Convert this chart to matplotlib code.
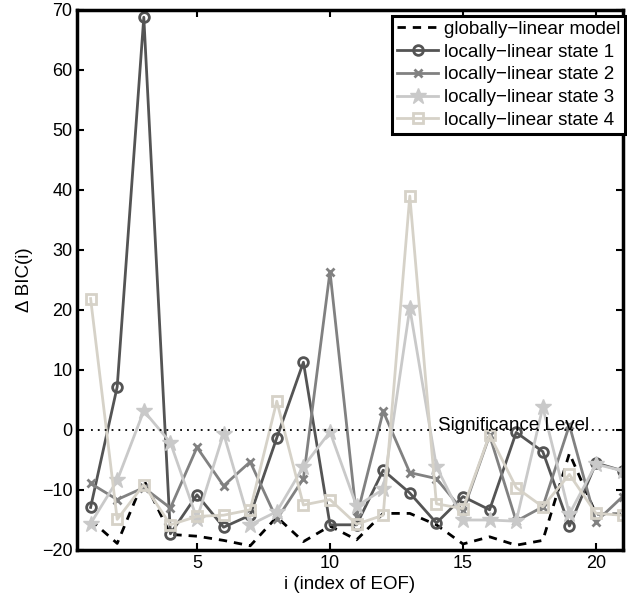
import matplotlib
matplotlib.use("Agg")
import matplotlib.pyplot as plt
import numpy as np

plt.rcParams['font.family'] = ['Liberation Sans', 'DejaVu Sans']

eof_index = list(range(1, 22))
global_model = [-15.0, -18.9, -8.3, -17.4, -17.7, -18.4, -19.3, -14.5, -18.6, -16.0, -18.3,
                -13.9, -13.9, -15.8, -19.0, -17.8, -19.2, -18.4, -3.9, -14.0, -14.0]
state1 = [-12.9, 7.2, 68.8, -17.3, -10.8, -16.2, -14.2, -1.3, 11.3, -15.8, -15.8,
          -6.7, -10.5, -15.5, -11.1, -13.3, -0.4, -3.6, -16.0, -5.5, -6.8]
state2 = [-8.9, -11.6, -9.6, -13.0, -2.9, -9.3, -5.3, -14.9, -8.1, 26.4, -14.5,
          3.1, -7.1, -8.1, -13.5, -0.9, -15.2, -12.8, 0.8, -15.3, -11.1]
state3 = [-15.6, -8.4, 3.2, -2.1, -14.8, -0.6, -15.8, -13.6, -6.1, -0.3, -12.7,
          -9.9, 20.3, -6.1, -15.0, -15.0, -15.2, 3.8, -14.0, -5.7, -6.8]
state4 = [21.9, -14.9, -9.1, -15.8, -14.4, -14.2, -13.3, 4.8, -12.5, -11.6, -15.7,
          -14.2, 39.0, -12.3, -13.1, -0.8, -9.6, -12.8, -7.4, -13.9, -14.2]
labels = ['globally\u2212linear model', 'locally\u2212linear state 1', 'locally\u2212linear state 2',
          'locally\u2212linear state 3', 'locally\u2212linear state 4']

fig = plt.figure(figsize=(6.27, 6.04), dpi=100)
ax = fig.add_axes([77.3/627, 1-550/604, (622.6-77.3)/627, (550-10)/604])

lw = 2.0
ax.plot(eof_index, global_model, '--', color='black', lw=lw, dashes=(3, 2.5), label=labels[0])
ax.plot(eof_index, state1, '-', color='#545454', lw=lw, marker='o', ms=7, mfc='none', mew=2, label=labels[1])
ax.plot(eof_index, state2, '-', color='#818181', lw=lw, marker='x', ms=6, mew=2, label=labels[2])
ax.plot(eof_index, state3, '-', color='#c9c9c9', lw=lw, marker='*', ms=12, mew=1, label=labels[3])
ax.plot(eof_index, state4, '-', color='#d6d2c8', lw=lw, marker='s', ms=6.5, mfc='none', mew=2, label=labels[4])

ax.plot([1, 21], [0, 0], color='black', lw=1.3, linestyle=(0, (1, 2.8)))
ax.text(14.05, 0, 'Significance Level', fontsize=13.5, va='baseline', ha='left')

ax.set_xlim(0.5, 21)
ax.set_ylim(-20, 70)
ax.set_xticks([5, 10, 15, 20])
ax.set_yticks(np.arange(-20, 71, 10))
ax.tick_params(direction='in', length=5, width=1.5, top=True, right=True, labelsize=13)
for s in ax.spines.values():
    s.set_linewidth(2.5)
ax.set_xlabel('i (index of EOF)', fontsize=13.5, labelpad=3)
ax.set_ylabel('\u0394 BIC(i)', fontsize=13.5, labelpad=6)

leg = ax.legend(loc='upper right', bbox_to_anchor=(625/627, 1-16/604), bbox_transform=fig.transFigure,
                fontsize=13.5, numpoints=1, handlelength=2.2, handletextpad=0.3, labelspacing=0.3,
                borderpad=0.25, borderaxespad=0, fancybox=False, framealpha=1)
leg.get_frame().set_edgecolor('black')
leg.get_frame().set_linewidth(2.2)

fig.savefig('out.png', dpi=100)
